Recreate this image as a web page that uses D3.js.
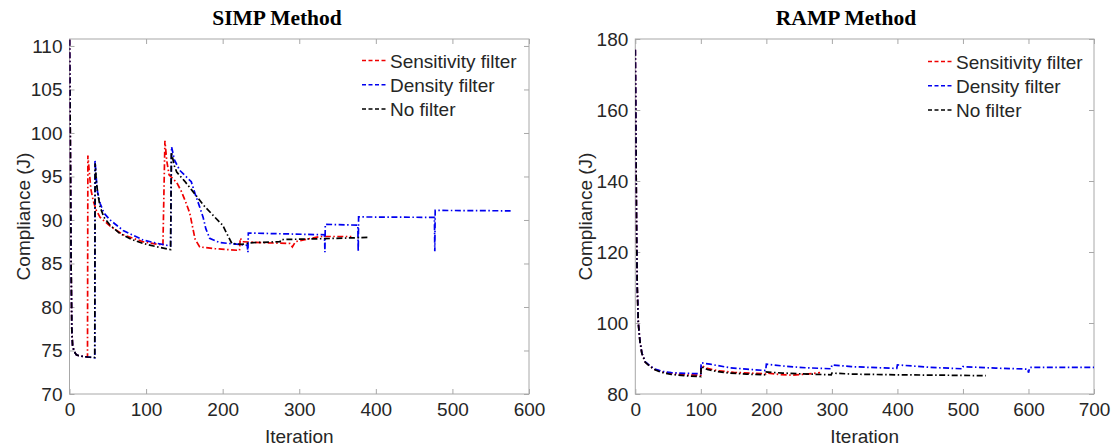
<!DOCTYPE html>
<html>
<head>
<meta charset="utf-8">
<script src="https://cdn.jsdelivr.net/npm/d3@7"></script>
<style>
  body { margin: 0; background: #fff; }
  svg text { font-family: Arial, 'Liberation Sans', sans-serif; fill: #262626; }
  .title { font-family: 'Times New Roman', 'Liberation Serif', serif; font-weight: bold; fill: #000; }
</style>
</head>
<body>
<svg id="chart" width="1112" height="448"></svg>
<script>
/* series names and colours */
const seriesNames = ['Sensitivity filter', 'Density filter', 'No filter']
const seriesColors = ['#f00000', '#0000f0', '#000000']

/* SIMP method: [iteration, compliance] */
const simpSens = [[0,110.7],[1,100],[2,86],[3,77.5],[4,75.6],[6,74.9],[9,74.5],[14,74.35],[23.5,74.25],[24,97.4],[26,95.4],[28,93.5],[31,92.2],[35,91.1],[40,90.3],[53,89.3],[70,88.3],[96,87.5],[122,87.1],[124.6,99.1],[127,96.8],[130,95.2],[140,94.3],[146,93.3],[152,92.0],[157,90.8],[160,89.5],[164,87.8],[170,86.9],[190,86.7],[222,86.5],[223,87.9],[226,87.5],[250,87.4],[288,87.3],[291,86.9],[295,87.5],[310,87.8],[327,88.1],[368,88.1]]
const simpDens = [[0,110.7],[1,100],[2,86],[3,77.5],[4,75.6],[6,74.9],[9,74.5],[14,74.35],[24,74.25],[33,74.15],[33.3,96.9],[36,93.5],[40,91.9],[45,90.8],[53,90.0],[70,88.8],[96,87.7],[115,87.3],[132,87.0],[133.3,98.4],[137,96.9],[144,95.7],[159,94.4],[164,93.0],[170,91.5],[174.5,90.3],[178,89.0],[183,87.9],[196,87.4],[232,87.1],[233,86.3],[233.5,88.5],[333,88.3],[333.5,86.3],[334,89.5],[376.5,89.4],[377,86.4],[377.5,90.35],[476.5,90.3],[477,86.4],[477.5,91.1],[576,91.05]]
const simpNone = [[0,110.7],[1,100],[2,86],[3,77.5],[4,75.6],[6,74.9],[9,74.5],[14,74.35],[24,74.25],[33,74.2],[33.5,96.5],[35,94.5],[37,93],[40,91.5],[45,90.3],[53,89.4],[65,88.5],[80,87.8],[96,87.3],[115,86.9],[132,86.6],[133,97.8],[137,96.2],[140,95.5],[150,94.5],[160,93.4],[175,91.7],[190,90.3],[200,89.4],[205,88.5],[212,87.3],[225,87.2],[240,87.4],[275,87.5],[276,87.75],[330,87.85],[392,88.0]]

/* RAMP method: [iteration, compliance] */
const rampSens = [[0,177],[1,150],[2,125],[3,110],[4.6,100],[7,95],[10,91.5],[15,89],[22,87.9],[30,86.9],[40,86.3],[55,85.8],[80,85.4],[100,85.3],[100.5,88.0],[110,87.2],[125,86.6],[150,86.1],[199,85.7],[200,85.9],[220,85.5],[240,85.3],[260,85.6],[282,86.0]]
const rampDens = [[0,177],[1,150],[2,125],[3,110],[4.6,100],[7,95],[10,91.5],[15,89.1],[22,88.0],[30,87.0],[40,86.4],[55,86.0],[80,85.8],[100,85.7],[100.5,88.8],[114,88.4],[144,87.4],[170,87.0],[199,86.6],[200,88.4],[230,87.8],[260,87.4],[299,87.1],[300,88.2],[330,87.7],[399,87.2],[400,88.2],[450,87.5],[499,87.1],[500,87.7],[550,87.3],[599,87.0],[600,86.0],[602,87.5],[700,87.5]]
const rampNone = [[0,177],[1,150],[2,125],[3,110],[4.6,100],[7,95],[10,91.5],[15,89],[22,87.8],[30,86.8],[40,86.1],[55,85.5],[80,85.1],[100,84.9],[100.5,87.7],[110,86.9],[125,86.3],[144,85.9],[170,85.6],[199,85.4],[200,86.2],[225,85.9],[250,85.7],[299,85.4],[300,85.9],[330,85.6],[400,85.4],[470,85.3],[535,85.15]]

/* axis ticks */
const simpXTicks = [0, 100, 200, 300, 400, 500, 600]
const simpYTicks = [70, 75, 80, 85, 90, 95, 100, 105, 110]
const rampXTicks = [0, 100, 200, 300, 400, 500, 600, 700]
const rampYTicks = [80, 100, 120, 140, 160, 180]

const svg = d3.select('#chart')
const frameColor = '#a8a8a8'
const fontSize = 19

/* fn: draw one panel */
function drawPanel(p) {
  const x = d3.scaleLinear().domain(p.xDomain).range([p.left, p.right])
  const y = d3.scaleLinear().domain(p.yDomain).range([p.bottom, p.top])
  const g = svg.append('g')

  /* ticks inward on all four sides */
  const ax = [
    [d3.axisBottom(x).tickValues(p.xTicks).tickSize(-5).tickPadding(9), `translate(0,${p.bottom})`],
    [d3.axisTop(x).tickValues(p.xTicks).tickSize(-5).tickFormat(''), `translate(0,${p.top})`],
    [d3.axisLeft(y).tickValues(p.yTicks).tickSize(-5).tickPadding(7), `translate(${p.left},0)`],
    [d3.axisRight(y).tickValues(p.yTicks).tickSize(-5).tickFormat(''), `translate(${p.right},0)`]
  ]
  ax.forEach(([a, tr]) => {
    const ag = g.append('g').attr('transform', tr).call(a)
    ag.select('.domain').remove()
    ag.selectAll('line').attr('stroke', frameColor)
    ag.selectAll('text')
      .style('font-size', fontSize + 'px')
      .attr('fill', '#262626')
      .style('font-family', "Arial, 'Liberation Sans', sans-serif")
  })

  /* frame */
  g.append('rect')
    .attr('x', p.left).attr('y', p.top)
    .attr('width', p.right - p.left).attr('height', p.bottom - p.top)
    .attr('fill', 'none').attr('stroke', frameColor).attr('stroke-width', 1)

  /* lines */
  const line = d3.line().x((d) => x(d[0])).y((d) => y(d[1]))
  const clipId = 'clip-' + p.id
  g.append('clipPath').attr('id', clipId).append('rect')
    .attr('x', p.left).attr('y', p.top - 1)
    .attr('width', p.right - p.left).attr('height', p.bottom - p.top + 1)
  p.series.forEach((s, i) => {
    g.append('path')
      .datum(s)
      .attr('clip-path', `url(#${clipId})`)
      .attr('d', line)
      .attr('fill', 'none')
      .attr('stroke', seriesColors[i])
      .attr('stroke-width', 1.7)
      .attr('stroke-dasharray', '6,2.5,1.5,2.5')
  })

  /* legend */
  seriesNames.forEach((name, i) => {
    const ly = p.legendY + i * 24.3
    g.append('line')
      .attr('x1', p.legendX).attr('x2', p.legendX + 26)
      .attr('y1', ly - 7).attr('y2', ly - 7)
      .attr('stroke', seriesColors[i]).attr('stroke-width', 1.5)
      .attr('stroke-dasharray', '4,2.5')
    g.append('text')
      .attr('x', p.legendX + 28).attr('y', ly)
      .style('font-size', fontSize + 'px')
      .text(name)
  })

  /* title and axis labels */
  g.append('text').attr('class', 'title')
    .attr('x', p.titleX).attr('y', 25)
    .attr('text-anchor', 'middle')
    .style('font-size', '21.5px')
    .text(p.title)
  g.append('text')
    .attr('x', (p.left + p.right) / 2).attr('y', 443)
    .attr('text-anchor', 'middle')
    .style('font-size', fontSize + 'px')
    .text('Iteration')
  g.append('text')
    .attr('transform', `translate(${p.yLabelX},${(p.top + p.bottom) / 2}) rotate(-90)`)
    .attr('text-anchor', 'middle')
    .style('font-size', fontSize + 'px')
    .text('Compliance (J)')
}

drawPanel({
  id: 'simp', title: 'SIMP Method', titleX: 277,
  left: 69.5, right: 529, top: 39, bottom: 394,
  xDomain: [0, 600], yDomain: [70, 110.8],
  xTicks: simpXTicks, yTicks: simpYTicks,
  series: [simpSens, simpDens, simpNone],
  legendX: 362, legendY: 67.5, yLabelX: 30
})

drawPanel({
  id: 'ramp', title: 'RAMP Method', titleX: 846,
  left: 635.3, right: 1094, top: 39, bottom: 394,
  xDomain: [0, 700], yDomain: [80, 180],
  xTicks: rampXTicks, yTicks: rampYTicks,
  series: [rampSens, rampDens, rampNone],
  legendX: 928, legendY: 68.5, yLabelX: 592
})
</script>
</body>
</html>
